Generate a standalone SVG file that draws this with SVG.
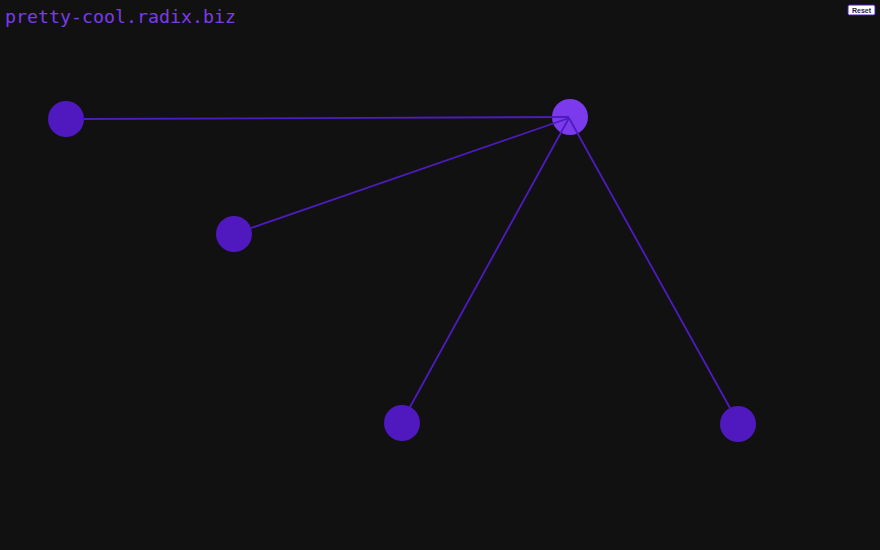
<svg xmlns="http://www.w3.org/2000/svg" width="880" height="550" viewBox="0 0 880 550">
<style>
.edge{stroke:#4c1cc0;stroke-width:1.8;fill:none}
.node{fill:#5019c0}
.hub{fill:#7c3aed}
.title{font-family:"DejaVu Sans Mono","Liberation Mono",monospace;font-size:18.3px;fill:#7c3aed}
.btn{fill:#ffffff;stroke:#4c1cc0;stroke-width:1}
.btntext{font-family:"Liberation Sans",Arial,sans-serif;font-size:7px;font-weight:bold;fill:#1a1a4a}
</style>
<rect width="880" height="550" fill="#111111"/>
<text class="title" x="5" y="23">pretty-cool.radix.biz</text>
<g id="reset">
<rect class="btn" x="848" y="5" width="27" height="10" rx="1.5"/>
<text class="btntext" x="861.5" y="12.5" text-anchor="middle">Reset</text>
</g>
<g id="n1"><circle class="node" cx="66" cy="119" r="18"/></g>
<g id="n2"><circle class="node" cx="234" cy="234" r="18"/></g>
<g id="n3"><circle class="node" cx="402" cy="423" r="18"/></g>
<g id="n4"><circle class="node" cx="738" cy="424" r="18"/></g>
<g id="hub"><circle class="hub" cx="570" cy="117" r="18"/></g>
<g id="connectors">
<line class="edge" x1="84" y1="119" x2="569" y2="117"/>
<line class="edge" x1="251" y1="228" x2="569" y2="118"/>
<line class="edge" x1="410" y1="407" x2="569" y2="118"/>
<line class="edge" x1="730" y1="408" x2="569" y2="118"/>
</g>
</svg>
